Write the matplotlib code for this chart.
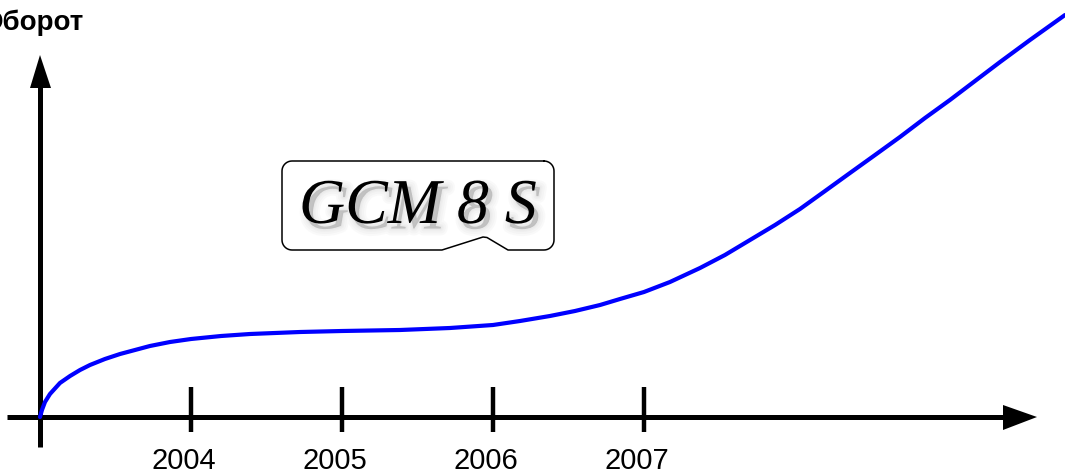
import numpy as np
import matplotlib
matplotlib.use("Agg")
import matplotlib.pyplot as plt
import matplotlib.patheffects as pe

# curve (pixel x -> year, pixel y -> value above the x axis)
curve_year = [2003.000, 2003.013, 2003.033, 2003.066, 2003.132, 2003.199, 2003.265,
              2003.331, 2003.430, 2003.530, 2003.728, 2003.861, 2004.000, 2004.199,
              2004.391, 2004.722, 2005.000, 2005.384, 2005.715, 2006.000, 2006.179,
              2006.377, 2006.543, 2006.709, 2006.841, 2007.000, 2007.172, 2007.371,
              2007.536, 2007.702, 2007.868, 2008.033, 2008.199, 2008.364, 2008.530,
              2008.695, 2008.861, 2009.026, 2009.192, 2009.358, 2009.556, 2009.788]
curve_value = [0, 7, 15, 23, 34, 41, 47, 52, 58, 63, 71, 75, 78, 81,
               83, 85, 86, 87, 89, 92, 96, 101, 106, 112, 118, 125, 135, 149,
               162, 177, 192, 208, 226, 244, 262, 280, 299, 317, 336, 355, 377, 402]

tick_years = [2004, 2005, 2006, 2007]
y_label = "Оборот"
logo_text = "GCM 8 S"

# picture is laid out in pixels: origin at (40, 417), 151 px per year
def fx(p): return 2003 + (p - 40) / 151.0
def fy(p): return 417 - p

fig = plt.figure(figsize=(10.65, 4.73), dpi=100)
ax = fig.add_axes([0, 0, 1, 1])
ax.set_xlim(fx(0), fx(1065))
ax.set_ylim(fy(473), fy(0))
ax.axis("off")

# axes with arrows
ax.plot([fx(7), fx(1004)], [0, 0], color="k", lw=3.6, solid_capstyle="butt")
ax.fill([fx(1003), fx(1037), fx(1003)], [fy(405), 0, fy(430)], color="k", lw=0)
ax.plot([fx(40), fx(40)], [fy(447), fy(87)], color="k", lw=3.6, solid_capstyle="butt")
ax.fill([fx(30), fx(40), fx(51)], [fy(88), fy(55), fy(88)], color="k", lw=0)

for yr in tick_years:
    ax.plot([yr, yr], [fy(387), fy(432)], color="k", lw=3.2, solid_capstyle="butt")
    ax.text(yr - 7 / 151.0, fy(469), str(yr), ha="center", va="baseline",
            fontsize=21, family="Liberation Sans")

ax.text(fx(84), fy(30), y_label, ha="right", va="baseline", fontsize=20,
        fontweight="bold", family="Liberation Sans")

ax.plot(curve_year, curve_value, color="#0000ff", lw=3.0,
        solid_joinstyle="round", solid_capstyle="round", zorder=3)

# speech-bubble box round the logo
L, R, T, B, r = 282, 554, 161, 250, 10
def arc(cx, cy, a0, a1):
    a = np.radians(np.linspace(a0, a1, 10))
    return list(zip(cx + r * np.cos(a), cy + r * np.sin(a)))

pts = arc(R - r, T + r, -90, 0) + arc(R - r, B - r, 0, 90)
pts += [(508, B), (487, 237.5), (483, 237), (442, B)]
pts += arc(L + r, B - r, 90, 180) + arc(L + r, T + r, 180, 270)
pts.append(pts[0])
bx = [fx(p[0]) for p in pts]
by = [fy(p[1]) for p in pts]
ax.plot(bx, by, color="k", lw=1.1, solid_joinstyle="round")

shadow = [pe.Stroke(linewidth=w, foreground="#999999", alpha=0.05, offset=(3, -4))
          for w in (10, 7, 4, 2)]
ax.text(fx(418), fy(208), logo_text, ha="center", va="center", fontsize=46,
        style="italic", family="Liberation Serif", color="k",
        path_effects=shadow + [pe.Normal()])

fig.savefig("out.png", dpi=100)
